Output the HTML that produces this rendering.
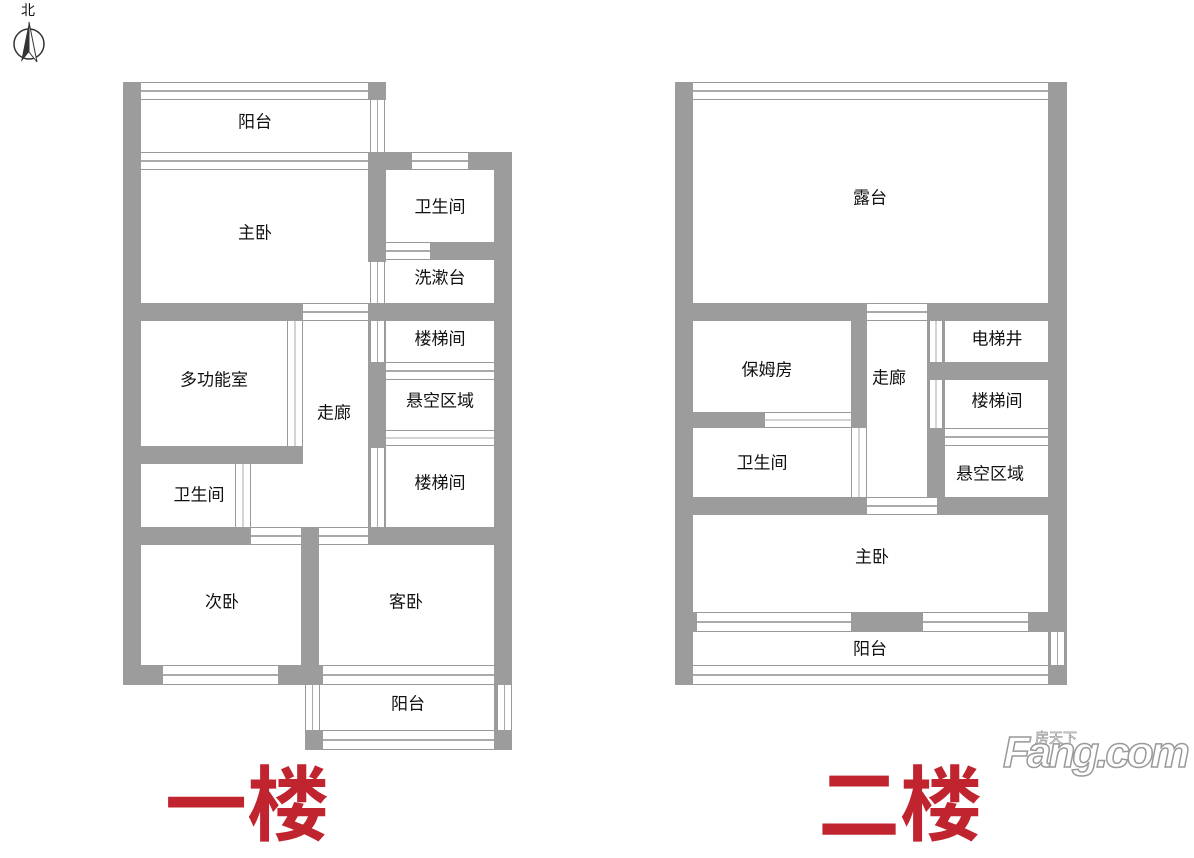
<!DOCTYPE html>
<html><head><meta charset="utf-8"><style>
body{margin:0;width:1194px;height:797px;background:#fff;position:relative;overflow:hidden;font-family:"Liberation Sans","Noto Sans CJK SC",sans-serif}
div{position:absolute;box-sizing:border-box}
.w{background:#9c9c9c}
.h{background:#fff;border-top:1px solid #999;border-bottom:1px solid #999;background-image:linear-gradient(#fff 0,#fff 45%,#aaa 45%,#aaa 55%,#fff 55%)}
.v{background:#fff;border-left:1px solid #999;border-right:1px solid #999;background-image:linear-gradient(90deg,#fff 0,#fff 45%,#aaa 45%,#aaa 55%,#fff 55%)}
.t{font-size:17px;color:#111;transform:translate(-50%,-50%);white-space:nowrap}
.big{font-size:82px;color:#c0242f;font-weight:bold;font-family:"Noto Sans CJK SC",sans-serif;top:758px;line-height:1}
</style></head><body>
<div class="t" style="left:28px;top:10px;font-size:14px">北</div>
<svg style="position:absolute;left:12px;top:20px" width="34" height="44"><circle cx="17" cy="24" r="15" fill="none" stroke="#333" stroke-width="1.5"/><polygon points="17,2 9,42 17,32" fill="#333"/><polygon points="17,2 25,42 17,32" fill="#fff" stroke="#333"/></svg>

<!-- PLAN 1 -->
<div class="w" style="left:123px;top:82px;width:18px;height:603px"></div>
<div class="h" style="left:141px;top:82px;width:227px;height:18px"></div>
<div class="w" style="left:368px;top:82px;width:18px;height:18px"></div>
<div class="v" style="left:370px;top:100px;width:15px;height:52px"></div>
<div class="h" style="left:141px;top:152px;width:227px;height:18px"></div>
<div class="w" style="left:368px;top:152px;width:144px;height:18px"></div>
<div class="h" style="left:412px;top:152px;width:56px;height:18px"></div>
<div class="w" style="left:494px;top:152px;width:18px;height:598px"></div>
<div class="w" style="left:368px;top:170px;width:18px;height:92px"></div>
<div class="w" style="left:386px;top:242px;width:108px;height:18px"></div>
<div class="h" style="left:386px;top:242px;width:44px;height:18px"></div>
<div class="v" style="left:370px;top:262px;width:15px;height:41px"></div>
<div class="w" style="left:141px;top:303px;width:353px;height:18px"></div>
<div class="h" style="left:303px;top:303px;width:65px;height:18px"></div>
<div class="w" style="left:368px;top:321px;width:18px;height:206px"></div>
<div class="v" style="left:370px;top:321px;width:15px;height:41px"></div>
<div class="h" style="left:386px;top:362px;width:108px;height:18px"></div>
<div class="h" style="left:386px;top:430px;width:108px;height:16px"></div>
<div class="v" style="left:370px;top:448px;width:15px;height:79px"></div>
<div class="v" style="left:287px;top:321px;width:16px;height:125px"></div>
<div class="w" style="left:141px;top:446px;width:162px;height:18px"></div>
<div class="v" style="left:235px;top:464px;width:16px;height:63px"></div>
<div class="w" style="left:141px;top:527px;width:353px;height:18px"></div>
<div class="h" style="left:251px;top:527px;width:50px;height:18px"></div>
<div class="h" style="left:319px;top:527px;width:49px;height:18px"></div>
<div class="w" style="left:301px;top:545px;width:18px;height:140px"></div>
<div class="w" style="left:123px;top:665px;width:196px;height:20px"></div>
<div class="h" style="left:163px;top:665px;width:115px;height:20px"></div>
<div class="h" style="left:319px;top:665px;width:175px;height:20px"></div>
<div class="w" style="left:305px;top:665px;width:18px;height:20px"></div>
<div class="v" style="left:305px;top:685px;width:15px;height:45px"></div>
<div class="v" style="left:497px;top:685px;width:15px;height:45px"></div>
<div class="w" style="left:305px;top:730px;width:207px;height:20px"></div>
<div class="h" style="left:323px;top:730px;width:171px;height:20px"></div>

<div class="t" style="left:255px;top:120px">阳台</div>
<div class="t" style="left:255px;top:231px">主卧</div>
<div class="t" style="left:440px;top:205px">卫生间</div>
<div class="t" style="left:440px;top:276px">洗漱台</div>
<div class="t" style="left:440px;top:337px">楼梯间</div>
<div class="t" style="left:214px;top:378px">多功能室</div>
<div class="t" style="left:334px;top:411px">走廊</div>
<div class="t" style="left:440px;top:399px">悬空区域</div>
<div class="t" style="left:440px;top:481px">楼梯间</div>
<div class="t" style="left:199px;top:493px">卫生间</div>
<div class="t" style="left:222px;top:600px">次卧</div>
<div class="t" style="left:406px;top:600px">客卧</div>
<div class="t" style="left:408px;top:702px">阳台</div>

<!-- PLAN 2 -->
<div class="w" style="left:675px;top:82px;width:18px;height:603px"></div>
<div class="h" style="left:693px;top:82px;width:355px;height:18px"></div>
<div class="w" style="left:1048px;top:82px;width:19px;height:603px"></div>
<div class="w" style="left:693px;top:303px;width:355px;height:18px"></div>
<div class="h" style="left:867px;top:303px;width:60px;height:18px"></div>
<div class="w" style="left:851px;top:321px;width:16px;height:107px"></div>
<div class="v" style="left:851px;top:428px;width:16px;height:69px"></div>
<div class="w" style="left:693px;top:412px;width:158px;height:16px"></div>
<div class="h" style="left:765px;top:412px;width:86px;height:16px"></div>
<div class="w" style="left:927px;top:321px;width:18px;height:176px"></div>
<div class="v" style="left:929px;top:321px;width:14px;height:41px"></div>
<div class="v" style="left:929px;top:380px;width:14px;height:48px"></div>
<div class="w" style="left:945px;top:362px;width:103px;height:18px"></div>
<div class="h" style="left:945px;top:428px;width:103px;height:18px"></div>
<div class="w" style="left:693px;top:497px;width:355px;height:18px"></div>
<div class="h" style="left:867px;top:497px;width:70px;height:18px"></div>
<div class="w" style="left:693px;top:612px;width:355px;height:20px"></div>
<div class="h" style="left:697px;top:612px;width:154px;height:20px"></div>
<div class="h" style="left:923px;top:612px;width:105px;height:20px"></div>
<div class="v" style="left:1050px;top:632px;width:15px;height:33px"></div>
<div class="h" style="left:693px;top:665px;width:355px;height:20px"></div>

<div class="t" style="left:870px;top:196px">露台</div>
<div class="t" style="left:767px;top:368px">保姆房</div>
<div class="t" style="left:889px;top:376px">走廊</div>
<div class="t" style="left:997px;top:337px">电梯井</div>
<div class="t" style="left:997px;top:399px">楼梯间</div>
<div class="t" style="left:762px;top:461px">卫生间</div>
<div class="t" style="left:990px;top:472px">悬空区域</div>
<div class="t" style="left:872px;top:555px">主卧</div>
<div class="t" style="left:870px;top:647px">阳台</div>

<div class="big" style="left:165px">一楼</div>
<div class="big" style="left:818px">二楼</div>
<div style="left:1003px;top:728px;font-size:44px;font-weight:bold;font-style:italic;color:#fff;-webkit-text-stroke:1.5px #999;letter-spacing:-3px">Fang.com</div>
<div style="left:1035px;top:728px;font-size:14px;color:#fff;-webkit-text-stroke:0.6px #888">房天下</div>
</body></html>
